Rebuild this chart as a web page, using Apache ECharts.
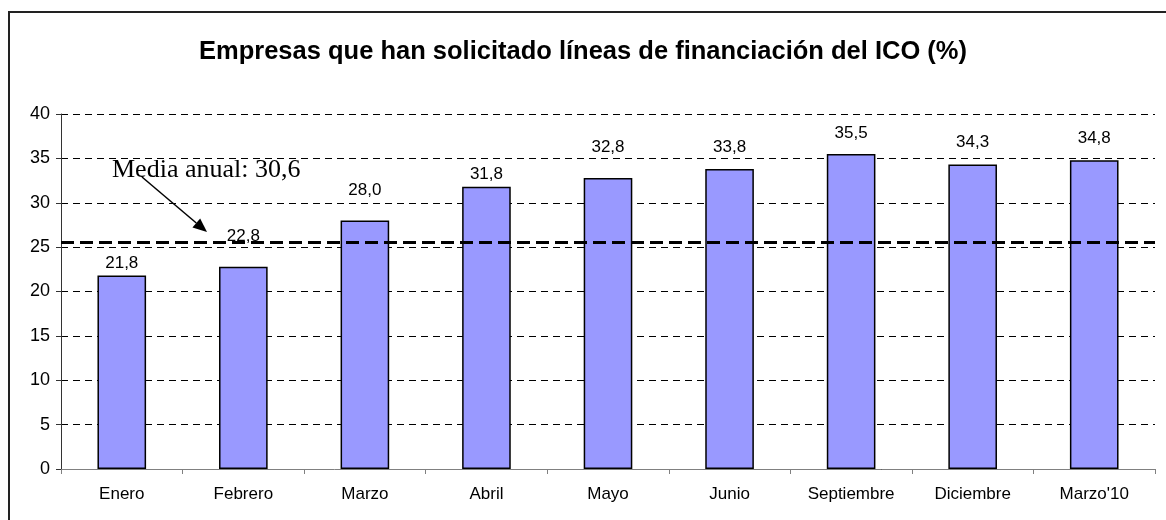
<!DOCTYPE html>
<html>
<head>
  <meta charset="utf-8">
  <script src="https://cdn.jsdelivr.net/npm/echarts@6/dist/echarts.min.js"></script>
  <title>Empresas ICO</title>
  <style>
    html, body { margin: 0; padding: 0; background: #fff; }
    #frame {
      position: absolute; left: 8px; top: 11px; width: 1170px; height: 520px;
      border-left: 2px solid #222; border-top: 2px solid #222;
    }
    #chart { position: absolute; left: 0; top: 0; width: 1166px; height: 520px; }
  </style>
</head>
<body>
  <div id="frame"></div>
  <div id="chart"></div>

  <script>
    const categories = ["Enero", "Febrero", "Marzo", "Abril", "Mayo", "Junio", "Septiembre", "Diciembre", "Marzo'10"];
    const values = [21.8, 22.8, 28.0, 31.8, 32.8, 33.8, 35.5, 34.3, 34.8];
    const meanLineLevel = 25.6;
    const meanText = "Media anual: 30,6";
    // label distance above each bar (px), as placed in the original
    const labelGap = [4, 22, 22, 4, 22, 13, 12, 14, 13];

    const fmt = v => v.toFixed(1).replace(".", ",");
    const sans = "Liberation Sans, Arial";

    const chart = echarts.init(document.getElementById("chart"));

    const option = {
      animation: false,
      title: {
        text: "Empresas que han solicitado líneas de financiación del ICO (%)",
        left: 578,
        textAlign: "center",
        top: 34,
        textStyle: { fontFamily: sans, fontWeight: "bold", fontSize: 25.5, color: "#000" },
      },
      grid: { left: 61, right: 11, top: 114, bottom: 51 },
      xAxis: {
        type: "category",
        data: categories,
        axisLine: { lineStyle: { color: "#808080", width: 1 } },
        axisTick: { show: true, length: 5, lineStyle: { color: "#808080" } },
        axisLabel: { margin: 17, fontFamily: sans, fontSize: 17, color: "#000" },
      },
      yAxis: {
        type: "value",
        min: 0,
        max: 40,
        interval: 5,
        axisLine: { show: true, lineStyle: { color: "#333", width: 1 } },
        axisTick: { show: true, length: 5, lineStyle: { color: "#333" } },
        axisLabel: { margin: 11, fontFamily: sans, fontSize: 18, color: "#000" },
        splitLine: { lineStyle: { color: "#000", type: [7, 5], width: 1 } },
      },
      series: [
        {
          type: "bar",
          barWidth: "40%",
          data: values.map((v, i) => ({
            value: v,
            label: { distance: labelGap[i] },
          })),
          itemStyle: { color: "#9999FF", borderColor: "#000", borderWidth: 1.5 },
          label: {
            show: true,
            position: "top",
            formatter: p => fmt(p.value),
            fontFamily: sans,
            fontSize: 17,
            color: "#000",
          },
          markLine: {
            silent: true,
            symbol: "none",
            label: { show: false },
            lineStyle: { color: "#000", type: [13, 6], width: 3 },
            data: [{ yAxis: meanLineLevel }],
          },
          z: 2,
        },
      ],
    };

    chart.setOption(option);

    // annotation: text + arrow pointing to the mean line
    const start = [142, 177];
    const tip = [207, 232];
    const ang = Math.atan2(tip[1] - start[1], tip[0] - start[0]);
    const hl = 14, hw = 6;
    const base = [tip[0] - hl * Math.cos(ang), tip[1] - hl * Math.sin(ang)];
    const head = [
      tip,
      [base[0] + hw * Math.sin(ang), base[1] - hw * Math.cos(ang)],
      [base[0] - hw * Math.sin(ang), base[1] + hw * Math.cos(ang)],
    ];

    chart.setOption({
      graphic: [
        {
          type: "text",
          left: 112,
          top: 157,
          z: 10,
          style: { text: meanText, font: "26px 'Liberation Serif', 'Times New Roman', serif", fill: "#000" },
        },
        {
          type: "line",
          z: 10,
          shape: { x1: start[0], y1: start[1], x2: base[0], y2: base[1] },
          style: { stroke: "#000", lineWidth: 1.5 },
        },
        {
          type: "polygon",
          z: 10,
          shape: { points: head },
          style: { fill: "#000" },
        },
      ],
    });

    window.addEventListener("resize", () => chart.resize());
  </script>
</body>
</html>
